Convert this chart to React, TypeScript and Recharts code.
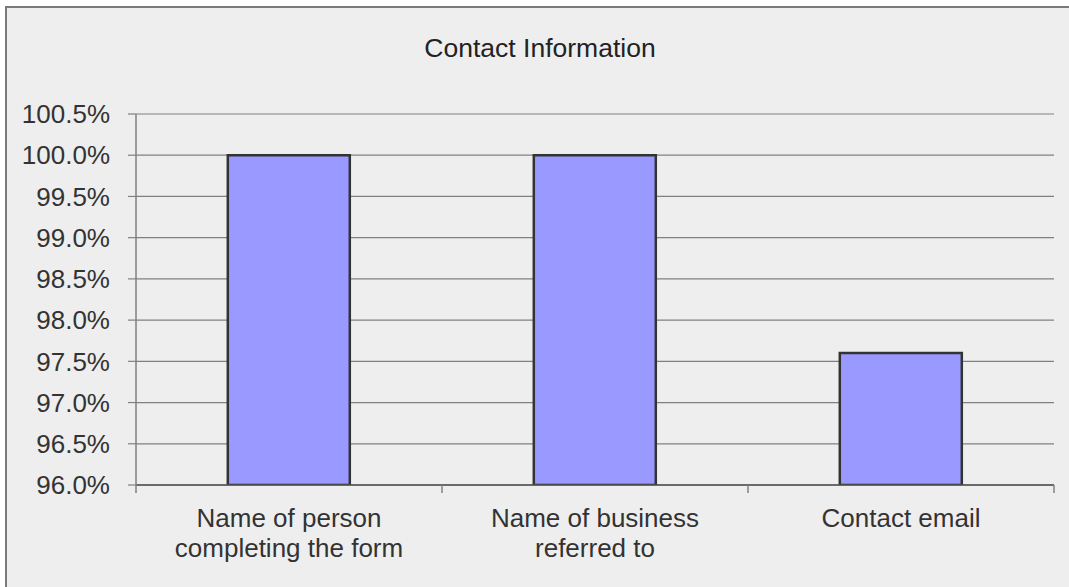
import React from "react";
import { BarChart, Bar, XAxis, YAxis, CartesianGrid } from "recharts";

const categories = ["Name of person\ncompleting the form", "Name of business\nreferred to", "Contact email"];
const values = [100.0, 100.0, 97.6];
const yTicks = [96.0, 96.5, 97.0, 97.5, 98.0, 98.5, 99.0, 99.5, 100.0, 100.5];
const title = "Contact Information";

const data = categories.map((c, i) => ({ name: c, value: values[i] }));

const FONT = "'Liberation Sans', Arial, sans-serif";
const W = 1069;
const H = 587;
const PLOT_LEFT = 136;
const PLOT_RIGHT = 1054;
const PLOT_TOP = 114;
const PLOT_BOTTOM = 485;
const X_AXIS_H = 2;

const XTick = (props: any) => {
  const { x, payload, index } = props;
  const band = (PLOT_RIGHT - PLOT_LEFT) / categories.length;
  const lines = String(payload.value).split("\n");
  return (
    <g>
      {index === 0 && <line x1={x - band / 2} x2={x - band / 2} y1={PLOT_BOTTOM} y2={PLOT_BOTTOM + 8} stroke="#808080" strokeWidth={1.5} />}
      <line x1={x + band / 2} x2={x + band / 2} y1={PLOT_BOTTOM} y2={PLOT_BOTTOM + 8} stroke="#808080" strokeWidth={1.5} />
      <text x={x} y={PLOT_BOTTOM + 42} textAnchor="middle" fill="#333" fontSize={26} fontFamily={FONT}>
        {lines.map((l: string, i: number) => (
          <tspan key={i} x={x} dy={i === 0 ? 0 : 30}>{l}</tspan>
        ))}
      </text>
    </g>
  );
};

export default function App() {
  return (
    <div style={{ position: "fixed", left: 0, top: 0, width: W, height: H, background: "#fff", overflow: "hidden" }}>
      <div style={{ position: "absolute", left: 5, top: 6, width: 1100, height: 620, background: "#EEEEEE", borderLeft: "2px solid #7a7a7a", borderTop: "2px solid #7a7a7a" }} />
      <div style={{ position: "absolute", left: 0, top: 0 }}>
        <BarChart width={W} height={H} data={data} margin={{ top: PLOT_TOP, right: W - PLOT_RIGHT, bottom: H - PLOT_BOTTOM - X_AXIS_H, left: 0 }} barCategoryGap="30%">
          <text x={540} y={57} textAnchor="middle" fill="#222" fontSize={26.5} fontFamily={FONT}>{title}</text>
          <CartesianGrid vertical={false} stroke="#808080" strokeWidth={1.2} />
          <XAxis dataKey="name" height={X_AXIS_H} interval={0} tickLine={false} axisLine={{ stroke: "#505050", strokeWidth: 1.5 }} tick={<XTick />} />
          <YAxis
            width={PLOT_LEFT}
            domain={[96, 100.5]}
            ticks={yTicks}
            allowDataOverflow
            tickFormatter={(v: number) => v.toFixed(1) + "%"}
            tickSize={8}
            tickMargin={18}
            tickLine={{ stroke: "#808080", strokeWidth: 1.2 }}
            axisLine={{ stroke: "#808080", strokeWidth: 1.5 }}
            tick={{ fill: "#333", fontSize: 26, fontFamily: FONT }}
          />
          <Bar dataKey="value" fill="#9999FF" stroke="#333" strokeWidth={2.5} isAnimationActive={false} />
        </BarChart>
      </div>
    </div>
  );
}
